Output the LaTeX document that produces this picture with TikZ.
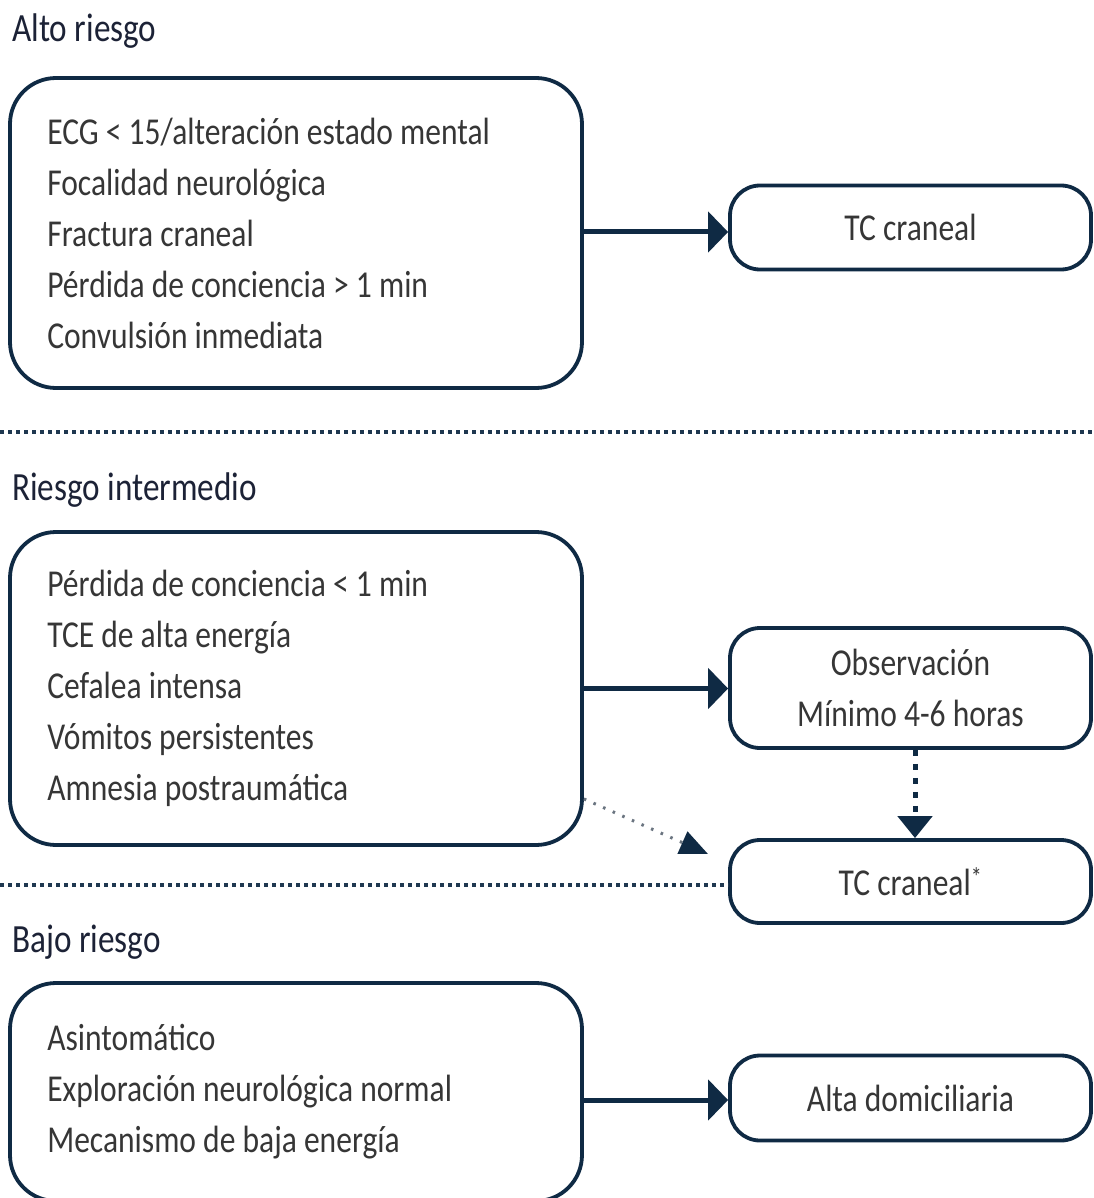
\documentclass[tikz,border=0pt]{standalone}
\usepackage{fontspec}
\setmainfont{Carlito}[FakeStretch=0.83]
\usetikzlibrary{arrows.meta}
\definecolor{navy}{HTML}{0F2A44}
\definecolor{txt}{HTML}{363636}
\definecolor{ttl}{HTML}{1C2236}
\definecolor{dotc}{HTML}{1F3850}
\definecolor{dgray}{HTML}{6A7480}
\tikzset{
  bigbox/.style={draw=navy, line width=3.8pt, rounded corners=46pt, minimum width=572pt, inner sep=0pt},
  bigtext/.style={anchor=west, align=left, text=txt, inner sep=0pt, font=\fontsize{38}{51}\selectfont},
  smallbox/.style={draw=navy, line width=3.8pt, rounded corners=30pt, minimum width=361pt,
    align=center, text=txt, font=\fontsize{38}{51}\selectfont},
  title/.style={anchor=base west, text=ttl, inner sep=0pt, font=\fontsize{40}{46}\selectfont},
  arr/.style={draw=navy, line width=5pt, -{Triangle[length=20pt,width=40pt]}},
  sep/.style={draw=dotc, line width=3.6pt, dash pattern=on 3.5pt off 4.5pt},
  dotarr/.style={draw=navy, line width=5pt, dash pattern=on 6pt off 8pt, -{Triangle[length=22pt,width=34pt]}},
  diagarr/.style={draw=dgray, line width=3pt, dash pattern=on 2.5pt off 8pt,
    -{Triangle[length=28pt,width=24pt,fill=navy,color=navy]}}
}
\begin{document}
\begin{tikzpicture}[x=1pt,y=-1pt]
\useasboundingbox[fill=white] (0,0) rectangle (1093,1198);
% titles
\node[title] (t1) at (12,42) {Alto riesgo};
\node[title] (t2) at (12,500) {Riesgo intermedio};
\node[title] (t3) at (12,952) {Bajo riesgo};
% big boxes
\node[bigbox, minimum height=310pt] (b1) at (296,233) {};
\node[bigtext] (b1t) at ([xshift=39pt]b1.west) {ECG < 15/alteración estado mental\\Focalidad neurológica\\Fractura craneal\\Pérdida de conciencia > 1 min\\Convulsión inmediata};
\node[bigbox, minimum height=313pt] (b2) at (296,688.5) {};
\node[bigtext] (b2t) at ([xshift=39pt]b2.west) {Pérdida de conciencia < 1 min\\TCE de alta energía\\Cefalea intensa\\Vómitos persistentes\\Amnesia postraumática};
\node[bigbox, minimum height=218pt] (b3) at (296,1092) {};
\node[bigtext] (b3t) at ([xshift=39pt]b3.west) {Asintomático\\Exploración neurológica normal\\Mecanismo de baja energía};
% small boxes
\node[smallbox, minimum height=84pt] (tc1) at (910.5,227.5) {TC craneal};
\node[smallbox, minimum height=120pt] (obs) at (910.5,688) {Observación\\Mínimo 4-6 horas};
\node[smallbox, minimum height=83pt] (tc2) at (910.5,881.5) {TC craneal\textsuperscript{*}};
\node[smallbox, minimum height=85pt] (alta) at (910.5,1098) {Alta domiciliaria};
% separators
\coordinate (s1a) at (0,432);
\coordinate (s1b) at (1093,432);
\coordinate (s2a) at (0,885);
\draw[sep] (s1a) -- (s1b);
\draw[sep] (s2a) -- (s2a -| tc2.west);
% arrows
\draw[arr] (b1.east |- 0,232) -- (tc1.west |- 0,232);
\draw[arr] (b2.east) -- (b2.east -| obs.west);
\draw[arr] (b3.east |- 0,1100) -- (alta.west |- 0,1100);
\draw[dotarr] (obs.south -| 915,0) -- (tc2.north -| 915,0);
\coordinate (d1) at ([yshift=48pt]b2.south east);
\coordinate (d2) at (708,854);
\draw[diagarr] (d1) -- (d2);
\end{tikzpicture}
\end{document}
